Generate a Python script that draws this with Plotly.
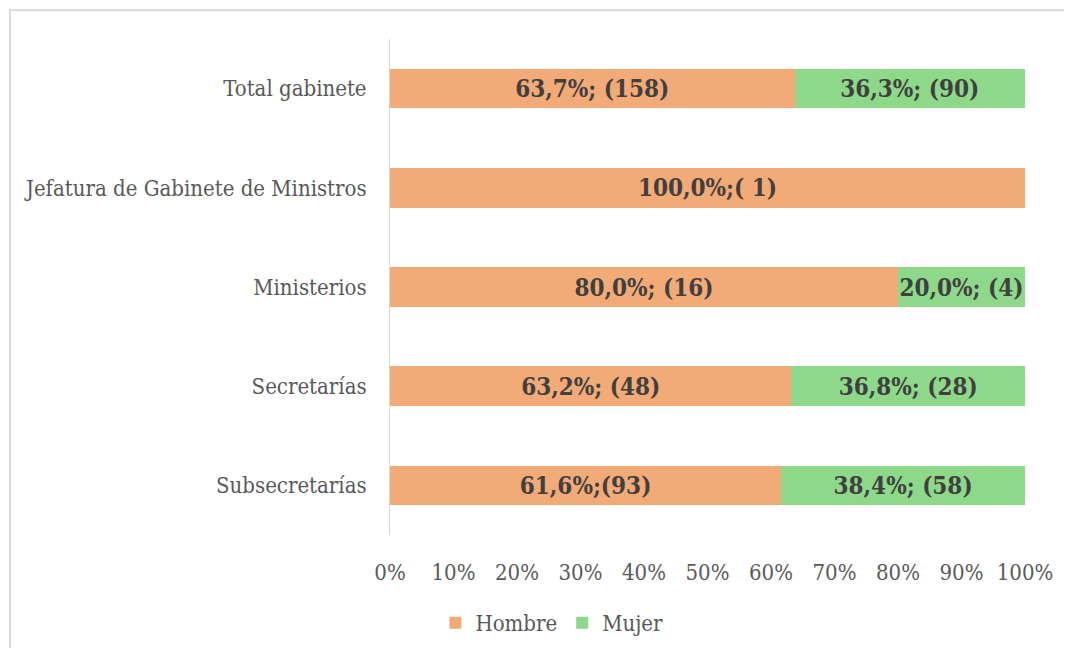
import plotly.graph_objects as go

# datos (orden de abajo hacia arriba)
categorias = ["Subsecretarías", "Secretarías", "Ministerios",
              "Jefatura de Gabinete de Ministros", "Total gabinete"]
hombre_pct = [61.6, 63.2, 80.0, 100.0, 63.7]
mujer_pct = [38.4, 36.8, 20.0, 0.0, 36.3]
hombre_txt = ["61,6%;(93)", "63,2%; (48)", "80,0%; (16)", "100,0%;( 1)", "63,7%; (158)"]
mujer_txt = ["38,4%; (58)", "36,8%; (28)", "20,0%; (4)", "", "36,3%; (90)"]
ticks = [0, 10, 20, 30, 40, 50, 60, 70, 80, 90, 100]
tick_labels = [f"{t}%" for t in ticks]

FONT = "DejaVu Serif Condensed, DejaVu Serif, serif"
label_font = dict(family=FONT, size=24, color="#404040", weight="bold")

fig = go.Figure()
fig.add_trace(go.Bar(
    y=categorias, x=hombre_pct, name="Hombre", orientation="h",
    marker=dict(color="#F2AA76", line=dict(width=0)),
    text=hombre_txt, textposition="inside", insidetextanchor="middle",
    constraintext="none", textfont=label_font, width=0.4,
))
fig.add_trace(go.Bar(
    y=categorias, x=mujer_pct, name="Mujer", orientation="h",
    marker=dict(color="#8DD989", line=dict(width=0)),
    text=mujer_txt, textposition="inside", insidetextanchor="middle",
    constraintext="none", textfont=label_font, width=0.4,
))

# área del gráfico en px: x 382..1017, y 31..530
fig.update_layout(
    barmode="stack",
    width=1072, height=648,
    margin=dict(l=382, r=55, t=31, b=118),
    paper_bgcolor="white", plot_bgcolor="white",
    font=dict(family=FONT, size=22, color="#595959"),
    showlegend=True,
    legend=dict(orientation="h", x=0.255, xanchor="center", y=-0.135, yanchor="top",
                font=dict(size=22, color="#595959"), traceorder="normal"),
    xaxis=dict(range=[0, 100], tickvals=ticks, ticktext=tick_labels,
               showgrid=False, zeroline=False, showline=False, ticks="",
               ticklabelstandoff=22),
    yaxis=dict(showgrid=False, showline=True, linecolor="#D9D9D9", linewidth=1,
               ticks="", ticklabelstandoff=18),
    shapes=[dict(type="rect", xref="paper", yref="paper",
                 x0=(2 - 382) / 635, x1=(1090 - 382) / 635,
                 y0=(530 - 680) / 499, y1=1 + (31 - 2) / 499,
                 line=dict(color="#D9D9D9", width=2), fillcolor="rgba(0,0,0,0)",
                 layer="below")],
)

fig.write_html("out.html")
